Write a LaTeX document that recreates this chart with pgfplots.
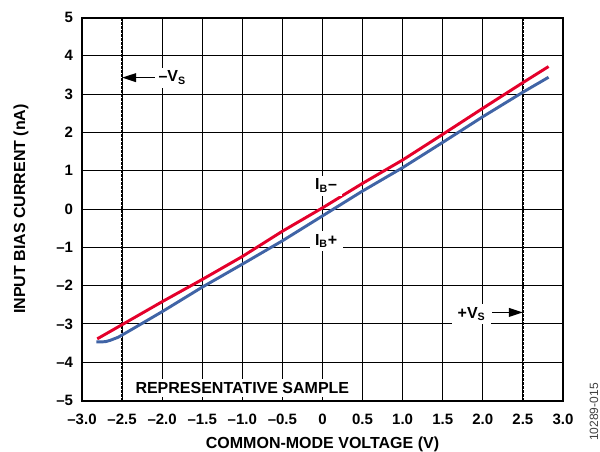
\documentclass[border=0pt]{standalone}
\usepackage{pgfplots}
\pgfplotsset{compat=1.18}
\usepackage{fontspec}
\setmainfont{Liberation Sans}
\usetikzlibrary{arrows.meta}
\definecolor{ibneg}{RGB}{228,0,43}
\definecolor{ibpos}{RGB}{64,100,166}

\begin{document}
\begin{tikzpicture}
\begin{axis}[
    at={(0,0)}, anchor=south west,
    scale only axis,
    width=360.75pt, height=287.25pt,
    xmin=-3, xmax=3, ymin=-5, ymax=5,
    xtick={-3,-2.5,-2,-1.5,-1,-0.5,0,0.5,1,1.5,2,2.5,3},
    xticklabels={–3.0,–2.5,–2.0,–1.5,–1.0,–0.5,0,0.5,1.0,1.5,2.0,2.5,3.0},
    ytick={-5,-4,-3,-2,-1,0,1,2,3,4,5},
    yticklabels={–5,–4,–3,–2,–1,0,1,2,3,4,5},
    major tick length=0pt,
    grid=major,
    major grid style={black, line width=0.65pt},
    axis line style={line width=1.5pt},
    tick label style={font=\fontsize{11.25}{12}\selectfont\bfseries, inner sep=0pt},
    xticklabel style={anchor=base, yshift=-18pt},
    yticklabel style={anchor=east, xshift=-6.5pt},
    label style={font=\fontsize{12}{13}\selectfont\bfseries},
    xlabel={COMMON-MODE VOLTAGE (V)},
    ylabel={INPUT BIAS CURRENT (nA)},
    xlabel style={at={(0.5,-0.1265)}, anchor=base, inner sep=0pt},
    ylabel style={at={(-0.1185,0.5)}, anchor=base, inner sep=0pt},
]

% supply rails
\draw[black, line width=1.4pt, dash pattern=on 2.2pt off 0.8pt]
    (axis cs:-2.5,-5) -- (axis cs:-2.5,5);
\draw[black, line width=1.4pt, dash pattern=on 2.2pt off 0.8pt]
    (axis cs:2.5,-5) -- (axis cs:2.5,5);

% IB-
\addplot[ibneg, line width=2.2pt] coordinates {
    (-2.81,-3.39) (-2.5,-3.02) (-2.0,-2.42) (-1.5,-1.84) (-1.0,-1.24)
    (-0.5,-0.58) (0,0.03) (0.5,0.67) (1.0,1.28) (1.5,1.95)
    (2.0,2.63) (2.5,3.30) (2.82,3.72)
};

% IB+
\addplot[ibpos, line width=2.2pt] coordinates {
    (-2.82,-3.47) (-2.75,-3.47) (-2.7,-3.46) (-2.65,-3.43) (-2.6,-3.39)
    (-2.55,-3.35) (-2.5,-3.29) (-2.4,-3.17) (-2.0,-2.68) (-1.5,-2.04)
    (-1.0,-1.44) (-0.5,-0.83) (0,-0.18) (0.5,0.47) (1.0,1.08)
    (1.5,1.74) (2.0,2.41) (2.5,3.05) (2.82,3.44)
};

\tikzset{lbl/.style={fill=white, inner xsep=4pt, inner ysep=2.5pt, anchor=base,
    font=\fontsize{12}{13}\selectfont\bfseries}}

\node[lbl] at (axis cs:0.045,0.50) {I\textsubscript{B}–};
\node[lbl] at (axis cs:0.045,-0.94) {I\textsubscript{B}+};
\node[lbl] at (axis cs:-1.875,3.32) {–V\textsubscript{S}};
\node[lbl] at (axis cs:1.86,-2.85) {+V\textsubscript{S}};
\node[lbl] at (axis cs:-1.0,-4.81) {REPRESENTATIVE SAMPLE};

\draw[line width=1.2pt, -{Triangle[length=10.5pt, width=6.5pt]}]
    (axis cs:-2.09,3.43) -- (axis cs:-2.5,3.43);
\draw[line width=1.2pt, -{Triangle[length=10.5pt, width=6.5pt]}]
    (axis cs:2.12,-2.70) -- (axis cs:2.5,-2.70);

\end{axis}

\node[rotate=90, anchor=east, inner sep=0pt, text=black!75,
    font=\fontsize{9}{10}\selectfont] at (384pt,13.1pt) {10289-015};

\pgfresetboundingbox
\useasboundingbox (-61.5pt,-37.875pt) rectangle (388.5pt,300.375pt);
\end{tikzpicture}
\end{document}
